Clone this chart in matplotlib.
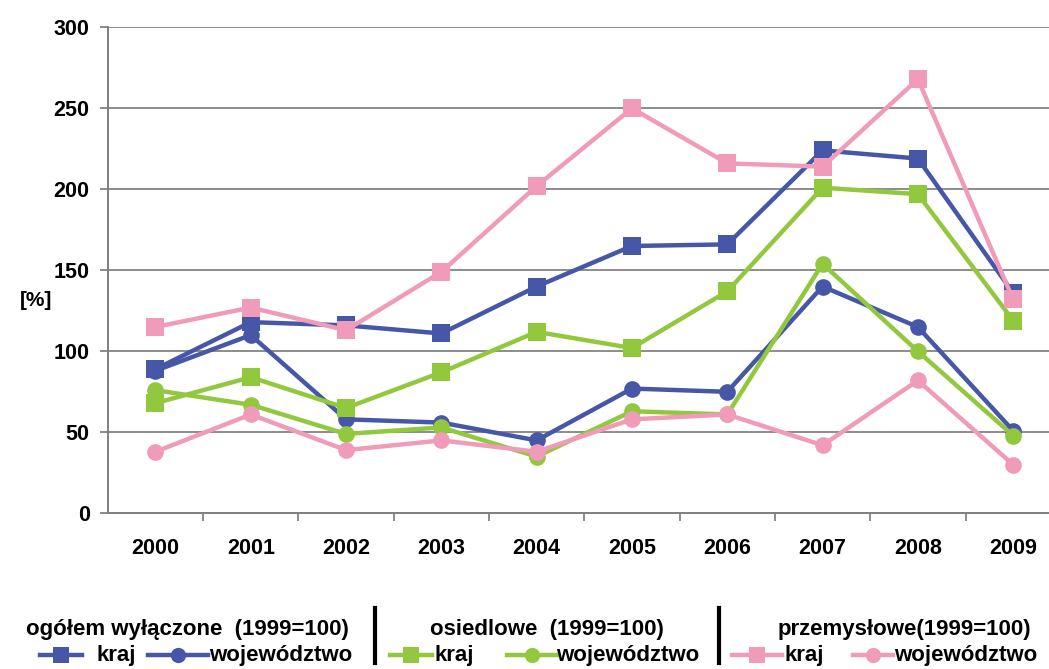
import matplotlib
matplotlib.use("Agg")
import matplotlib.pyplot as plt
from matplotlib.lines import Line2D

plt.rcParams['font.family'] = ['Liberation Sans', 'DejaVu Sans']

years = ['2000', '2001', '2002', '2003', '2004', '2005', '2006', '2007', '2008', '2009']
ogolem_kraj = [89, 118, 116, 111, 140, 165, 166, 224, 219, 136]
ogolem_woj = [88, 110, 58, 56, 45, 77, 75, 140, 115, 51]
osiedlowe_kraj = [68, 84, 65, 87, 112, 102, 137, 201, 197, 119]
osiedlowe_woj = [76, 67, 49, 53, 35, 63, 61, 154, 100, 48]
przem_kraj = [115, 127, 113, 149, 202, 250, 216, 214, 268, 132]
przem_woj = [38, 61, 39, 45, 38, 58, 61, 42, 82, 30]
yticks = [0, 50, 100, 150, 200, 250, 300]

BLUE = '#4657a7'
GREEN = '#92c83e'
PINK = '#f09bba'

W, H = 1049, 669
fig = plt.figure(figsize=(W / 100, H / 100), dpi=100)
ax = fig.add_axes([107.8 / W, 1 - 513.3 / H, 1 - 107.8 / W, (513.3 - 27.3) / H])

x = list(range(len(years)))
series = [
    (ogolem_kraj, BLUE, 's'),
    (ogolem_woj, BLUE, 'o'),
    (osiedlowe_kraj, GREEN, 's'),
    (osiedlowe_woj, GREEN, 'o'),
    (przem_kraj, PINK, 's'),
    (przem_woj, PINK, 'o'),
]
for vals, c, m in series:
    ax.plot(x, vals, color=c, lw=3.2, marker=m, ms=12.5 if m == 's' else 12,
            markeredgewidth=0, solid_joinstyle='miter', clip_on=False)

ax.set_xlim(-0.5, 9.376)
ax.set_ylim(0, 300)
ax.set_yticks(yticks)
ax.set_yticklabels([str(v) for v in yticks], fontsize=15.5, fontweight='bold')
ax.set_xticks(x)
ax.set_xticklabels(years, fontsize=15.5, fontweight='bold')
ax.set_xticks([i + 0.5 for i in range(9)], minor=True)
ax.tick_params(axis='x', which='major', length=0, pad=18)
ax.tick_params(axis='x', which='minor', length=6, width=1.2, color='#777777')
ax.tick_params(axis='y', length=6, width=1.2, color='#777777', pad=7)
ax.grid(axis='y', color='#8c8c8c', lw=1.4)
ax.set_axisbelow(True)
for s in ['top', 'right']:
    ax.spines[s].set_visible(False)
for s in ['left', 'bottom']:
    ax.spines[s].set_color('#808080')
    ax.spines[s].set_linewidth(1.4)

fig.text(20 / W, 1 - 300 / H, '[%]', fontsize=15, fontweight='bold', va='center', ha='left')

# legend
def fx(px):
    return px / W

def fy(py):
    return 1 - py / H

hy = 630
ey = 655
fs = 16
fig.text(fx(26), fy(hy), 'ogółem wyłączone  (1999=100)', fontsize=fs, fontweight='bold', va='center')
fig.text(fx(430), fy(hy), 'osiedlowe  (1999=100)', fontsize=fs, fontweight='bold', va='center')
fig.text(fx(778), fy(hy), 'przemysłowe(1999=100)', fontsize=fs, fontweight='bold', va='center')
for bx in [375, 719]:
    fig.add_artist(Line2D([fx(bx), fx(bx)], [fy(608), fy(663)], color='black', lw=3))

entries = [
    (40, 82, BLUE, 's', 'kraj', 96),
    (148, 208, BLUE, 'o', 'województwo', 209),
    (390, 432, GREEN, 's', 'kraj', 434),
    (507, 557, GREEN, 'o', 'województwo', 556),
    (732, 782, PINK, 's', 'kraj', 784),
    (853, 893, PINK, 'o', 'województwo', 894),
]
for x0, x1, c, m, lab, tx in entries:
    fig.add_artist(Line2D([fx(x0), fx(x1)], [fy(ey), fy(ey)], color=c, lw=3.2))
    fig.add_artist(Line2D([fx((x0 + x1) / 2)], [fy(ey)], color=c, marker=m,
                          ms=12 if m == 's' else 11, markeredgewidth=0, lw=0))
    fig.text(fx(tx), fy(ey), lab, fontsize=fs, fontweight='bold', va='center')

fig.savefig('out.png', dpi=100)
